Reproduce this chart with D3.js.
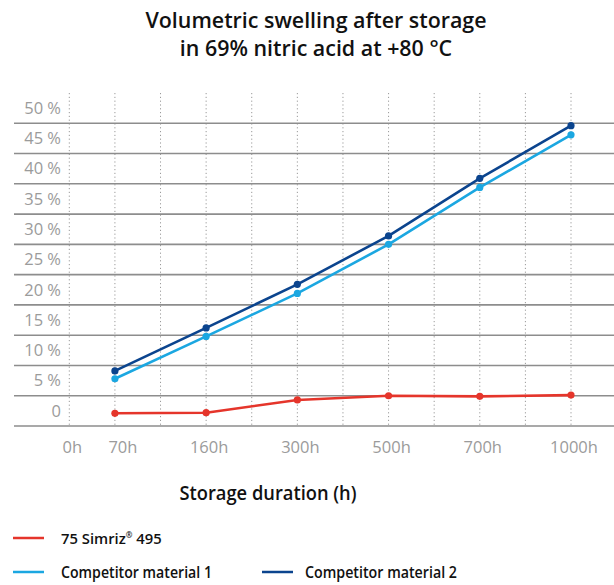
<!DOCTYPE html>
<html><head><meta charset="utf-8">
<script src="https://cdn.jsdelivr.net/npm/d3@7"></script>
<style>
html,body{margin:0;padding:0;background:#fff;}
svg{display:block;font-family:"Open Sans",sans-serif;}
</style></head>
<body>
<svg id="chart" width="614" height="585"></svg>
<script>
const categories = ["0h","70h","160h","300h","500h","700h","1000h"];
const seriesNames = ["75 Simriz® 495","Competitor material 1","Competitor material 2"];
const simriz = [null, 2.1, 2.2, 4.3, 5.0, 4.9, 5.1];
const competitor1 = [null, 7.8, 14.8, 21.9, 30.0, 39.4, 48.1];
const competitor2 = [null, 9.1, 16.2, 23.4, 31.4, 40.9, 49.6];
const yTicks = [0,5,10,15,20,25,30,35,40,45,50];
const colors = ["#e5352b","#1ba7e1","#0b448e"];

const svg = d3.select("#chart");
// slot index: 0h at first gridline, then every second gridline
const slotCount = 12;
const slotOf = i => i === 0 ? 0 : 2*i - 1;
const x = d3.scaleLinear().domain([0, slotCount-1]).range([69.3, 571]);
const y = d3.scaleLinear().domain([0, 55]).range([426, 93]);

// vertical dotted lines
svg.append("g").selectAll("line").data(d3.range(slotCount)).join("line")
  .attr("x1", d => x(d)).attr("x2", d => x(d))
  .attr("y1", y(55)).attr("y2", y(0))
  .attr("stroke", "#9a9a9a").attr("stroke-width", 1).attr("stroke-dasharray", "1.2,2.6");

// horizontal grid lines
svg.append("g").selectAll("line").data(yTicks).join("line")
  .attr("x1", 14).attr("x2", 614)
  .attr("y1", d => y(d)).attr("y2", d => y(d))
  .attr("stroke", "#8d8d8d").attr("stroke-width", 1.6);

// y labels (sit in the band above each line)
svg.append("g").selectAll("text").data(yTicks).join("text")
  .attr("x", 61).attr("y", d => (y(d) + y(d+5))/2)
  .attr("dy", "0.35em").attr("text-anchor", "end")
  .attr("fill", "#9b9b9b").attr("font-size", 16.5)
  .text(d => d === 0 ? "0" : d + " %");

// x labels
svg.append("g").selectAll("text").data(categories).join("text")
  .attr("x", (d,i) => x(slotOf(i)) + (i === 1 ? 8 : 3)).attr("y", 453)
  .attr("text-anchor", "middle")
  .attr("fill", "#9b9b9b").attr("font-size", 16.5)
  .text(d => d);

// series
const allSeries = [simriz, competitor1, competitor2];
const line = d3.line().defined(d => d.v !== null).x(d => x(slotOf(d.i))).y(d => y(d.v));
allSeries.forEach((vals, s) => {
  const pts = vals.map((v,i) => ({v, i}));
  svg.append("path").datum(pts).attr("d", line)
    .attr("fill", "none").attr("stroke", colors[s]).attr("stroke-width", 2.6)
    .attr("stroke-linejoin", "round");
  svg.append("g").selectAll("circle").data(pts.filter(p => p.v !== null)).join("circle")
    .attr("cx", p => x(slotOf(p.i))).attr("cy", p => y(p.v)).attr("r", 3.6)
    .attr("fill", colors[s]);
});

// title
const title = svg.append("text").attr("text-anchor", "middle")
  .attr("font-size", 21.4).attr("font-weight", 600).attr("fill", "#111");
title.append("tspan").attr("x", 316).attr("y", 28).text("Volumetric swelling after storage");
title.append("tspan").attr("x", 316).attr("y", 56).text("in 69% nitric acid at +80 °C");

// axis title
svg.append("text").attr("x", 268).attr("y", 500).attr("text-anchor", "middle")
  .attr("font-size", 20.5).attr("font-weight", 600).attr("fill", "#111")
  .attr("textLength", 177).attr("lengthAdjust", "spacingAndGlyphs")
  .text("Storage duration (h)");

// legend
const legendPos = [[13, 538, 48],[13, 572, 48],[262, 572, 43]];
const legendWidths = [null, 151, 152];
seriesNames.forEach((name, s) => {
  const [lx, ly, off] = legendPos[s];
  svg.append("line").attr("x1", lx).attr("x2", lx+31).attr("y1", ly).attr("y2", ly)
    .attr("stroke", colors[s]).attr("stroke-width", 2.5);
  const t = svg.append("text").attr("x", lx+off).attr("y", ly+6)
    .attr("font-size", 15.5).attr("font-weight", 600).attr("fill", "#111");
  if (name.includes("®")) {
    const parts = name.split("®");
    t.attr("font-size", 14.8);
    t.append("tspan").text(parts[0]);
    t.append("tspan").attr("font-size", 8).attr("dy", -6).text("®");
    t.append("tspan").attr("dy", 6).text(parts[1]);
  } else {
    t.attr("textLength", legendWidths[s]).attr("lengthAdjust", "spacingAndGlyphs").text(name);
  }
});
</script>
</body></html>
